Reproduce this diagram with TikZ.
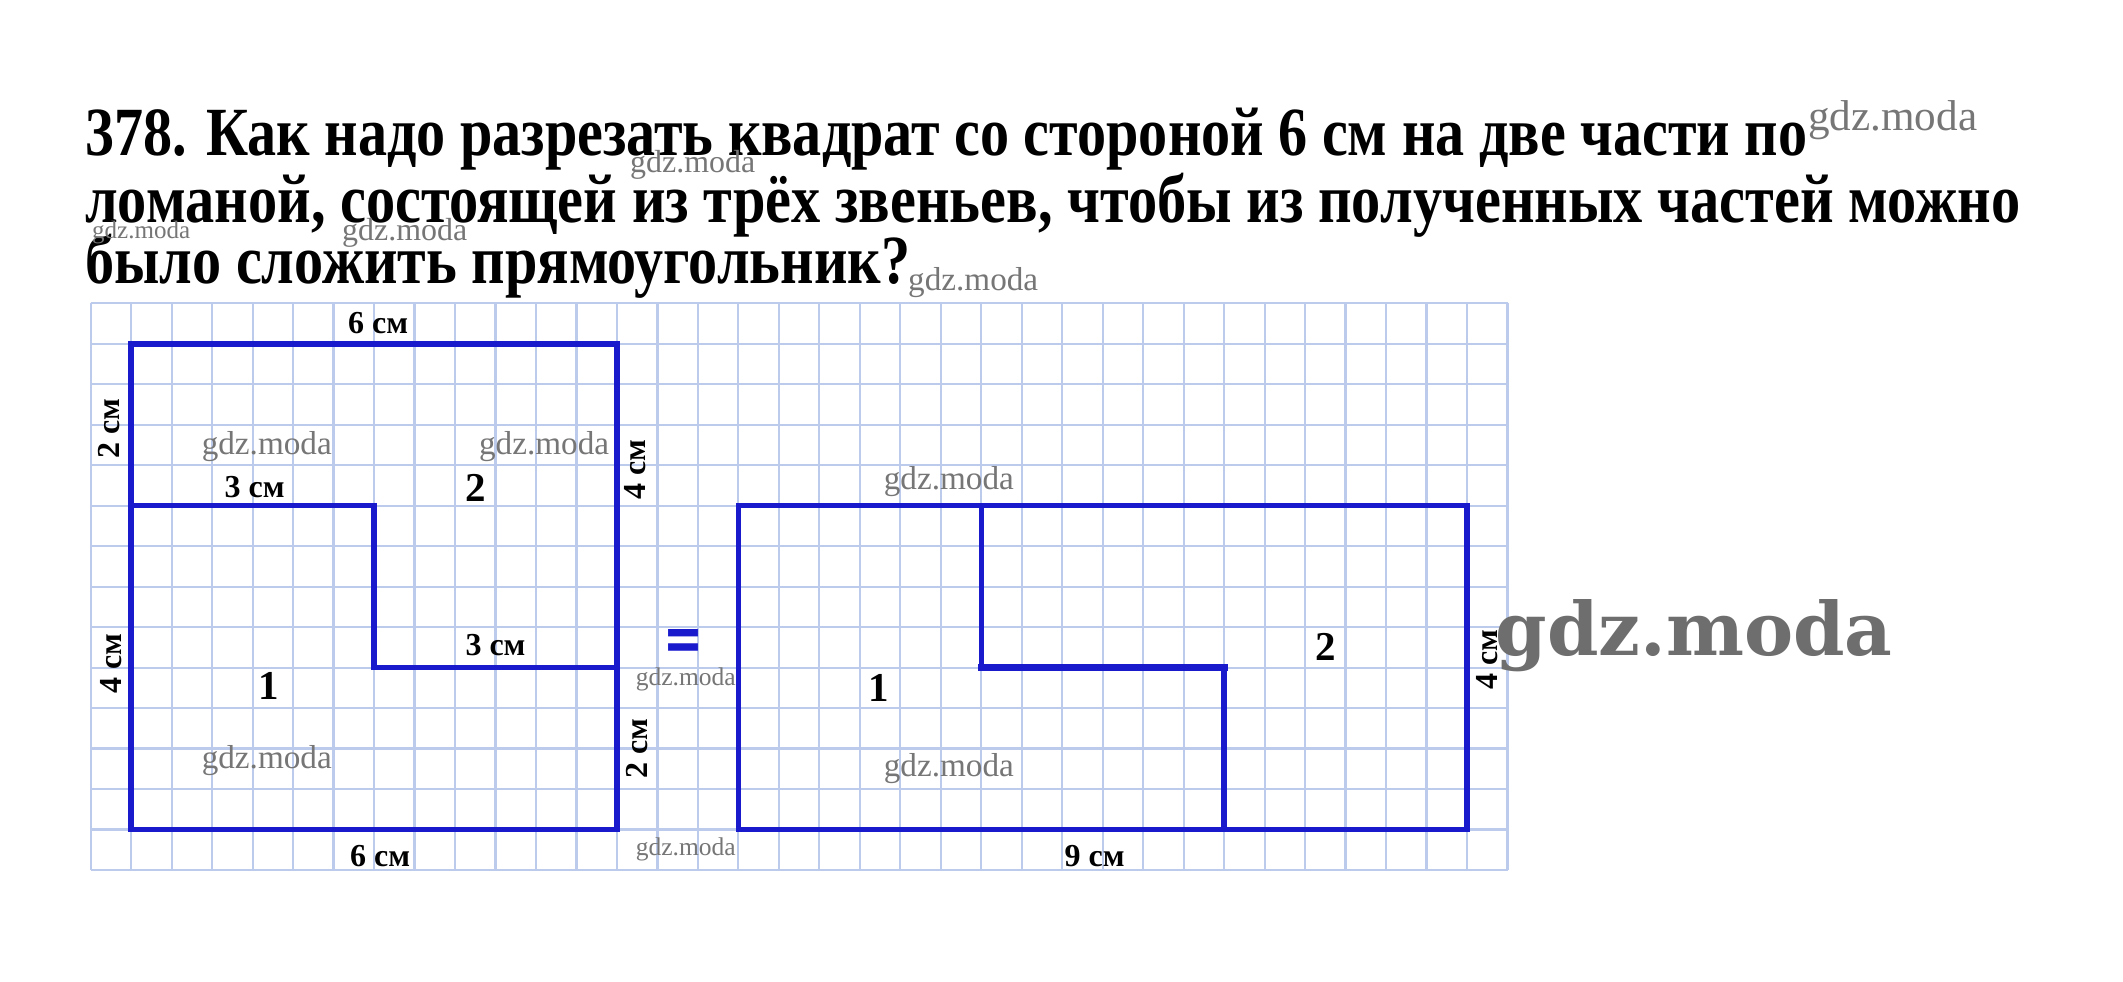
\documentclass[tikz,border=0pt]{standalone}
\usepackage{fontspec}
\setmainfont{Liberation Serif}
\newfontfamily\wmfont{DejaVu Serif}
\newfontfamily\eqfont{DejaVu Sans}
\usepackage{graphicx}
\definecolor{gridc}{RGB}{188,202,236}
\definecolor{figblue}{RGB}{26,26,205}
\definecolor{wmgray}{RGB}{118,118,118}
\tikzset{
  gridline/.style={draw=gridc, line width=2.2pt},
  figline/.style={draw=figblue, line width=5.5pt, line cap=rect, line join=miter},
  ttl/.style={anchor=base west, inner sep=0pt, font=\fontsize{69}{69}\selectfont\bfseries},
  lbl/.style={inner sep=0pt, font=\fontsize{32}{32}\selectfont\bfseries},
  num/.style={inner sep=0pt, font=\fontsize{41}{41}\selectfont\bfseries},
  wmark/.style={inner sep=0pt, text=wmgray, anchor=base west},
  wm/.style={inner sep=0pt, text=wmgray},
}
\newcommand{\wmtxt}[1]{\resizebox{#1}{!}{\fontsize{30}{30}\selectfont gdz.moda}}
\begin{document}
\begin{tikzpicture}[x=1pt,y=-1pt]
\fill[white] (0,0) rectangle (2123,982);
\useasboundingbox (0,0) rectangle (2123,982);
% title
\node[ttl] (t1) at (85,155) {\resizebox{1722pt}{\height}{378. Как надо разрезать квадрат со стороной 6 см на две части по}};
\node[ttl] (t2) at (85,222) {\resizebox{1935pt}{\height}{ломаной, состоящей из трёх звеньев, чтобы из полученных частей можно}};
\node[ttl] (t3) at (85,283) {\resizebox{825pt}{\height}{было сложить прямоугольник?}};
% title watermarks
\node[wmark] (w1) at (1808,130) {\wmtxt{169pt}};
\node[wmark] (w2) at (630,172) {\wmtxt{125pt}};
\node[wmark] (w3) at (92,238) {\wmtxt{98pt}};
\node[wmark] (w4) at (342,240) {\wmtxt{125pt}};
\node[wmark] (w5) at (908,290) {\wmtxt{130pt}};
\begin{scope}[shift={(90.7,303.3)}, x=40.48pt, y=-40.48pt]
  % grid
  \foreach \i in {0,...,35} \draw[gridline] (\i,0) -- (\i,14);
  \foreach \j in {0,...,14} \draw[gridline] (0,\j) -- (35,\j);
  % square
  \draw[figline] (1,1) rectangle (13,13);
  \draw[figline] (1,5) -- (7,5) -- (7,9) -- (13,9);
  % rectangle
  \draw[figline] (16,5) rectangle (34,13);
  \draw[figline] (22,5) -- (22,9) -- (28,9) -- (28,13);
  \draw[figline, line width=7pt] (22,9) -- (28,9);
  % labels
  \node[lbl] (l6a) at (7.1,0.5) {6 см};
  \node[lbl, rotate=90] (l2a) at (0.45,3.1) {2 см};
  \node[lbl] (l3a) at (4.05,4.55) {3 см};
  \node[num] (n2a) at (9.5,4.55) {2};
  \node[lbl, rotate=90] (l4a) at (13.45,4.1) {4 см};
  \node[lbl, rotate=90] (l4b) at (0.5,8.9) {4 см};
  \node[num] (n1a) at (4.4,9.45) {1};
  \node[lbl] (l3b) at (10.0,8.45) {3 см};
  \node[lbl, rotate=90] (l2b) at (13.5,11.0) {2 см};
  \node[lbl] (l6b) at (7.15,13.65) {6 см};
  \node[inner sep=0pt, text=figblue] (eq) at (14.65,8.45) {\resizebox{40pt}{31pt}{\eqfont\bfseries =}};
  \node[num] (n1b) at (19.46,9.5) {1};
  \node[num] (n2b) at (30.5,8.5) {2};
  \node[lbl, rotate=90] (l4c) at (34.5,8.8) {4 см};
  \node[lbl] (l9) at (24.8,13.65) {9 см};
  % field watermarks
  \node[wm] (w6) at (4.35,3.55) {\wmtxt{130pt}};
  \node[wm] (w7) at (11.2,3.55) {\wmtxt{130pt}};
  \node[wm] (w8) at (4.35,11.3) {\wmtxt{130pt}};
  \node[wm] (w9) at (21.2,4.4) {\wmtxt{130pt}};
  \node[wm] (w10) at (21.2,11.5) {\wmtxt{130pt}};
  \node[wm] (w11) at (14.7,9.3) {\wmtxt{100pt}};
  \node[wm] (w12) at (14.7,13.5) {\wmtxt{100pt}};
\end{scope}
\node[wm, text={rgb,255:red,110;green,110;blue,110}] (wbig) at (1694,636) {\resizebox{397pt}{!}{\fontsize{30}{30}\selectfont\wmfont\bfseries gdz.moda}};
\end{tikzpicture}
\end{document}
